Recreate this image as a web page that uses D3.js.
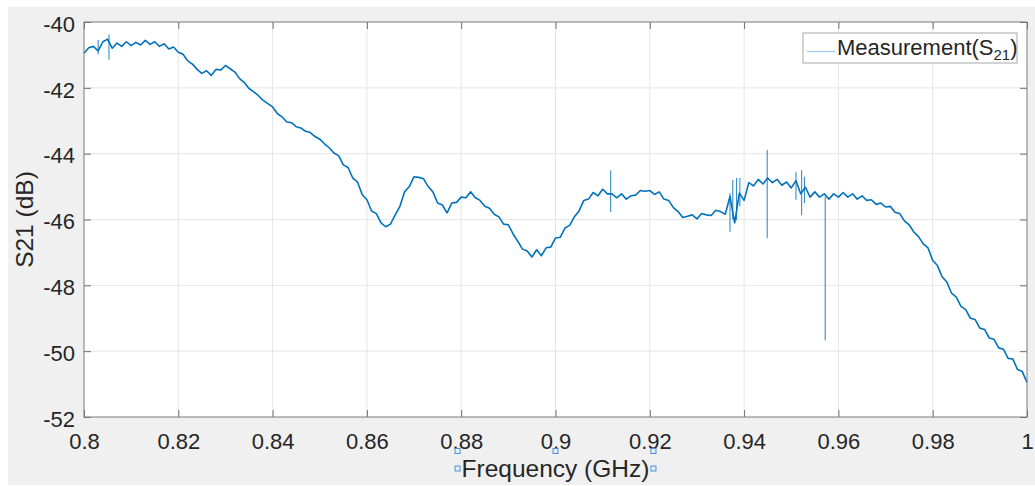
<!DOCTYPE html>
<html>
<head>
<meta charset="utf-8">
<script src="https://cdn.jsdelivr.net/npm/d3@7"></script>
<style>
  body { margin: 0; background: #fff; }
  svg { display: block; font-family: "Liberation Sans", Arial, sans-serif; }
</style>
</head>
<body>
<div class="graph"></div>
<script>
// S21 measurement, one value every 0.001 GHz from 0.8 to 1.0
let s21 = [
  -40.95, -40.78, -40.74, -40.88, -40.60, -40.52, -40.80, -40.64, -40.74, -40.60,
  -40.72, -40.62, -40.70, -40.56, -40.68, -40.60, -40.74, -40.66, -40.82, -40.76,
  -40.92, -40.98, -41.18, -41.28, -41.44, -41.56, -41.48, -41.62, -41.44, -41.46,
  -41.32, -41.42, -41.52, -41.72, -41.84, -42.02, -42.12, -42.24, -42.38, -42.48,
  -42.58, -42.78, -42.88, -43.04, -43.06, -43.18, -43.22, -43.32, -43.36, -43.48,
  -43.56, -43.70, -43.82, -43.98, -44.06, -44.34, -44.42, -44.74, -44.86, -45.24,
  -45.40, -45.74, -45.82, -46.10, -46.22, -46.14, -45.86, -45.60, -45.16, -45.00,
  -44.70, -44.72, -44.76, -45.00, -45.16, -45.50, -45.56, -45.80, -45.50, -45.48,
  -45.32, -45.34, -45.16, -45.34, -45.42, -45.60, -45.66, -45.84, -45.92, -46.14,
  -46.16, -46.44, -46.66, -46.90, -46.96, -47.14, -46.92, -47.10, -46.86, -46.84,
  -46.56, -46.54, -46.26, -46.18, -45.92, -45.74, -45.42, -45.38, -45.18, -45.28,
  -45.08, -45.22, -45.22, -45.34, -45.22, -45.38, -45.28, -45.26, -45.12, -45.14,
  -45.12, -45.24, -45.16, -45.38, -45.42, -45.64, -45.76, -45.94, -45.90, -45.86,
  -45.98, -45.82, -45.86, -45.88, -45.72, -45.76, -45.84, -45.30, -46.10, -45.20,
  -45.42, -44.88, -44.98, -44.78, -44.92, -44.74, -44.88, -44.78, -44.96, -44.86,
  -45.04, -44.82, -45.22, -45.02, -45.32, -45.16, -45.32, -45.22, -45.38, -45.22,
  -45.32, -45.18, -45.32, -45.22, -45.38, -45.28, -45.42, -45.40, -45.54, -45.50,
  -45.62, -45.60, -45.78, -45.82, -46.04, -46.16, -46.38, -46.52, -46.74, -46.86,
  -47.24, -47.40, -47.74, -47.90, -48.24, -48.36, -48.64, -48.74, -49.00, -49.04,
  -49.30, -49.34, -49.60, -49.64, -49.90, -49.94, -50.22, -50.24, -50.56, -50.62,
  -50.95
];
let freqStart = 0.8;
let freqStep = 0.001;

// narrow spikes in the trace (GHz, top dB, bottom dB)
let spikeFreq = [0.8030, 0.8053, 0.9117, 0.9370, 0.9376, 0.9384, 0.9391, 0.9449, 0.9510, 0.9522, 0.9528, 0.9572];
let spikeTop = [-40.55, -40.38, -44.50, -45.20, -44.80, -44.74, -44.74, -43.89, -44.55, -44.50, -44.70, -45.30];
let spikeBottom = [-40.98, -41.15, -45.77, -46.37, -46.00, -46.02, -45.60, -46.57, -45.40, -45.87, -45.50, -49.67];

let xTicks = [0.8, 0.82, 0.84, 0.86, 0.88, 0.9, 0.92, 0.94, 0.96, 0.98, 1];
let xTickLabels = ["0.8", "0.82", "0.84", "0.86", "0.88", "0.9", "0.92", "0.94", "0.96", "0.98", "1"];
let yTicks = [-52, -50, -48, -46, -44, -42, -40];
let yTickLabels = ["-52", "-50", "-48", "-46", "-44", "-42", "-40"];

let W = 1035, H = 486;
let pL = 84, pT = 22, pR = 1027, pB = 417;
let lineColor = "#0072bd";
let textColor = "#262626";

let svg = d3.select(".graph").append("svg").attr("width", W).attr("height", H);

svg.append("rect").attr("x", 8).attr("y", 7).attr("width", W - 8).attr("height", 478).attr("fill", "#f0f0f0");
svg.append("rect").attr("x", pL).attr("y", pT).attr("width", pR - pL).attr("height", pB - pT).attr("fill", "#fff");

let x = d3.scaleLinear().domain([0.8, 1]).range([pL, pR]);
let y = d3.scaleLinear().domain([-52, -40]).range([pB, pT]);

// grid
svg.append("g").selectAll("line").data(xTicks.slice(1, -1)).enter().append("line")
  .attr("x1", d => x(d)).attr("x2", d => x(d)).attr("y1", pT).attr("y2", pB)
  .attr("stroke", "#e6e6e6").attr("stroke-width", 1);
svg.append("g").selectAll("line").data(yTicks.slice(1, -1)).enter().append("line")
  .attr("x1", pL).attr("x2", pR).attr("y1", d => y(d)).attr("y2", d => y(d))
  .attr("stroke", "#e6e6e6").attr("stroke-width", 1);

// data
let pts = s21.map((v, i) => [freqStart + i * freqStep, v]);
let line = d3.line().x(d => x(d[0])).y(d => y(d[1]));
svg.append("path").datum(pts).attr("d", line)
  .attr("fill", "none").attr("stroke", lineColor).attr("stroke-width", 1.6).attr("stroke-linejoin", "round");
svg.append("g").selectAll("line").data(spikeFreq).enter().append("line")
  .attr("x1", d => x(d)).attr("x2", d => x(d))
  .attr("y1", (d, i) => y(spikeTop[i])).attr("y2", (d, i) => y(spikeBottom[i]))
  .attr("stroke", lineColor).attr("stroke-width", 1.1).attr("stroke-opacity", 0.8);

// axes
function styleAxis(g) {
  g.select(".domain").remove();
  g.selectAll(".tick line").attr("stroke", "#6e6e6e");
  g.selectAll(".tick text").attr("fill", textColor).style("font-size", "22px")
    .style("font-family", '"Liberation Sans", Arial, sans-serif');
}
svg.append("g").attr("transform", "translate(0," + pB + ")")
  .call(d3.axisBottom(x).tickValues(xTicks).tickFormat((d, i) => xTickLabels[i]).tickSizeInner(-7).tickSizeOuter(0).tickPadding(16))
  .call(styleAxis);
svg.append("g").attr("transform", "translate(0," + pT + ")")
  .call(d3.axisTop(x).tickValues(xTicks).tickFormat("").tickSizeInner(-7).tickSizeOuter(0))
  .call(styleAxis);
svg.append("g").attr("transform", "translate(" + pL + ",0)")
  .call(d3.axisLeft(y).tickValues(yTicks).tickFormat((d, i) => yTickLabels[i]).tickSizeInner(-7).tickSizeOuter(0).tickPadding(9))
  .call(styleAxis)
  .selectAll(".tick text").attr("dy", "0.42em");
svg.append("g").attr("transform", "translate(" + pR + ",0)")
  .call(d3.axisRight(y).tickValues(yTicks).tickFormat("").tickSizeInner(-7).tickSizeOuter(0))
  .call(styleAxis);

svg.append("rect").attr("x", pL).attr("y", pT).attr("width", pR - pL).attr("height", pB - pT)
  .attr("fill", "none").attr("stroke", "#7a7a7a").attr("stroke-width", 1);

// axis titles
let xt = svg.append("text").attr("x", (pL + pR) / 2).attr("y", 477).attr("text-anchor", "middle")
  .attr("fill", textColor).style("font-size", "24.5px").text("Frequency (GHz)");
svg.append("text").attr("transform", "translate(33," + (pT + pB) / 2 + ") rotate(-90)")
  .attr("text-anchor", "middle").attr("fill", textColor).style("font-size", "24.5px").text("S21 (dB)");

// selection handles around the x label
let bb = xt.node().getBBox();
let handles = [
  [bb.x - 4, bb.y - 4], [bb.x + bb.width / 2, bb.y - 4], [bb.x + bb.width + 4, bb.y - 4],
  [bb.x - 4, bb.y + bb.height / 2], [bb.x + bb.width + 4, bb.y + bb.height / 2]
];
svg.append("g").selectAll("rect").data(handles).enter().append("rect")
  .attr("x", d => d[0] - 2.5).attr("y", d => d[1] - 2.5).attr("width", 5).attr("height", 5)
  .attr("fill", "#e6f0fa").attr("stroke", "#4a8fd6").attr("stroke-width", 1);

// legend
let lg = svg.append("g");
lg.append("rect").attr("x", 803).attr("y", 33).attr("width", 214).attr("height", 30)
  .attr("fill", "#fff").attr("stroke", "#a8a8a8").attr("stroke-width", 1);
lg.append("line").attr("x1", 807).attr("x2", 835).attr("y1", 51.5).attr("y2", 51.5)
  .attr("stroke", "#9cc6e8").attr("stroke-width", 1.2);
let lt = lg.append("text").attr("x", 837).attr("y", 55).attr("fill", textColor).style("font-size", "22px");
lt.append("tspan").text("Measurement(S");
lt.append("tspan").attr("dy", 5).style("font-size", "15px").text("21");
lt.append("tspan").attr("dy", -5).text(")");
</script>
</body>
</html>
